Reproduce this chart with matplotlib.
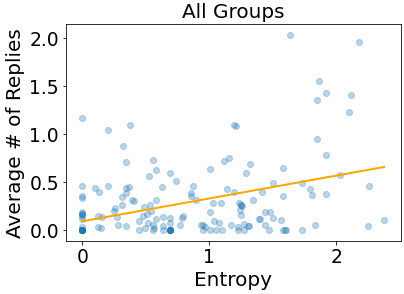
import numpy as np
import matplotlib
matplotlib.use('Agg')
import matplotlib.pyplot as plt

# entropy vs average replies
entropy = [
    0.0, 0.205, 0.378, 0.323, 0.346, 0.559, 0.583, 0.528, 0.693, 0.740,
    1.008, 1.118, 1.157, 0.0, 0.102, 0.134, 0.205, 0.0, 0.0, 0.346,
    0.370, 0.346, 0.315, 0.394, 0.409, 0.315, 0.260, 0.252, 0.276, 0.283,
    0.346, 0.126, 0.157, 0.126, 0.150, 0.0, 0.0, 0.0, 0.0, 0.0,
    0.0, 0.0, 0.0, 0.0, 0.0, 0.449, 0.449, 0.480, 0.488, 0.535,
    0.512, 0.543, 0.583, 0.583, 0.520, 0.496, 0.559, 0.559, 0.567, 0.630,
    0.638, 0.638, 0.638, 0.693, 0.693, 0.693, 0.693, 0.693, 0.772, 0.795,
    0.787, 0.858, 0.858, 0.874, 0.898, 1.008, 1.031, 1.094, 1.039, 1.079,
    0.937, 0.953, 0.969, 0.953, 1.008, 1.055, 1.102, 1.142, 1.173,
    1.638, 2.181, 1.866, 1.921, 1.850, 2.118, 2.102, 1.197, 1.213, 1.850,
    1.921, 1.323, 1.291, 1.583, 2.031, 1.504, 1.732, 2.260, 1.197, 1.417,
    1.583, 1.795, 1.811, 1.921, 1.346, 1.236, 1.252, 1.252, 1.260, 1.240,
    1.252, 1.394, 1.400, 1.441, 1.480, 1.504, 1.567, 1.441, 1.472, 1.583,
    1.606, 1.596, 1.732, 1.835, 2.252, 2.378, 1.228, 1.276, 1.307, 1.315,
    1.228, 1.276,
    # overlapping points in the dark clusters
    0.0, 0.0, 0.0, 0.0, 0.0, 0.0, 0.693, 0.693, 0.693, 0.693, 0.0,
]
avg_replies = [
    1.170, 1.045, 1.094, 0.875, 0.708, 0.729, 0.625, 0.563, 0.594, 0.510,
    0.635, 0.719, 0.750, 0.458, 0.438, 0.396, 0.458, 0.360, 0.333, 0.438,
    0.448, 0.385, 0.344, 0.313, 0.302, 0.260, 0.229, 0.198, 0.135, 0.052,
    0.042, 0.146, 0.135, 0.031, 0.021, 0.188, 0.167, 0.167, 0.146, 0.115,
    0.030, 0.0, 0.0, 0.0, 0.0, 0.094, 0.0, 0.146, 0.240, 0.260,
    0.167, 0.198, 0.313, 0.115, 0.073, 0.021, 0.052, 0.0, 0.021, 0.448,
    0.135, 0.042, 0.0, 0.125, 0.073, 0.0, 0.0, 0.0, 0.052, 0.146,
    0.125, 0.385, 0.354, 0.458, 0.313, 0.188, 0.281, 0.281, 0.094, 0.073,
    0.052, 0.052, 0.031, 0.0, 0.0, 0.0, 0.0, 0.427, 0.052,
    2.030, 1.958, 1.552, 1.427, 1.354, 1.406, 1.229, 1.094, 1.083, 0.948,
    0.781, 0.688, 0.594, 0.646, 0.573, 0.490, 0.490, 0.458, 0.396, 0.396,
    0.354, 0.427, 0.365, 0.375, 0.313, 0.281, 0.260, 0.260, 0.250, 0.208,
    0.156, 0.115, 0.115, 0.188, 0.188, 0.125, 0.104, 0.052, 0.0, 0.0,
    0.0, 0.0, 0.0, 0.052, 0.042, 0.104, 0.031, 0.063, 0.042, 0.042,
    0.0, 0.0,
    0.0, 0.0, 0.0, 0.0, 0.0, 0.0, 0.0, 0.0, 0.0, 0.0, 0.167,
]

# trend line ends
trend_x = [0.0, 2.378]
trend_y = [0.094, 0.66]

x = np.array(entropy)
y = np.array(avg_replies)

fig = plt.figure(figsize=(404 / 72, 294 / 72), dpi=72)
ax = fig.add_axes([66 / 404, 1 - 241 / 294, (401 - 66) / 404, (241 - 24.3) / 294])

ax.scatter(x, y, alpha=0.3, color='C0')
ax.plot(trend_x, trend_y, color='orange', linewidth=2)

ax.set_xlim(-0.128, 2.51)
ax.set_ylim(-0.111, 2.146)
ax.set_xticks([0, 1, 2])
ax.set_yticks([0.0, 0.5, 1.0, 1.5, 2.0])
ax.tick_params(labelsize=18.8)
ax.set_title('All Groups', fontsize=20)
ax.set_xlabel('Entropy', fontsize=20)
ax.set_ylabel('Average # of Replies', fontsize=20)

fig.savefig('out.png', dpi=72)
